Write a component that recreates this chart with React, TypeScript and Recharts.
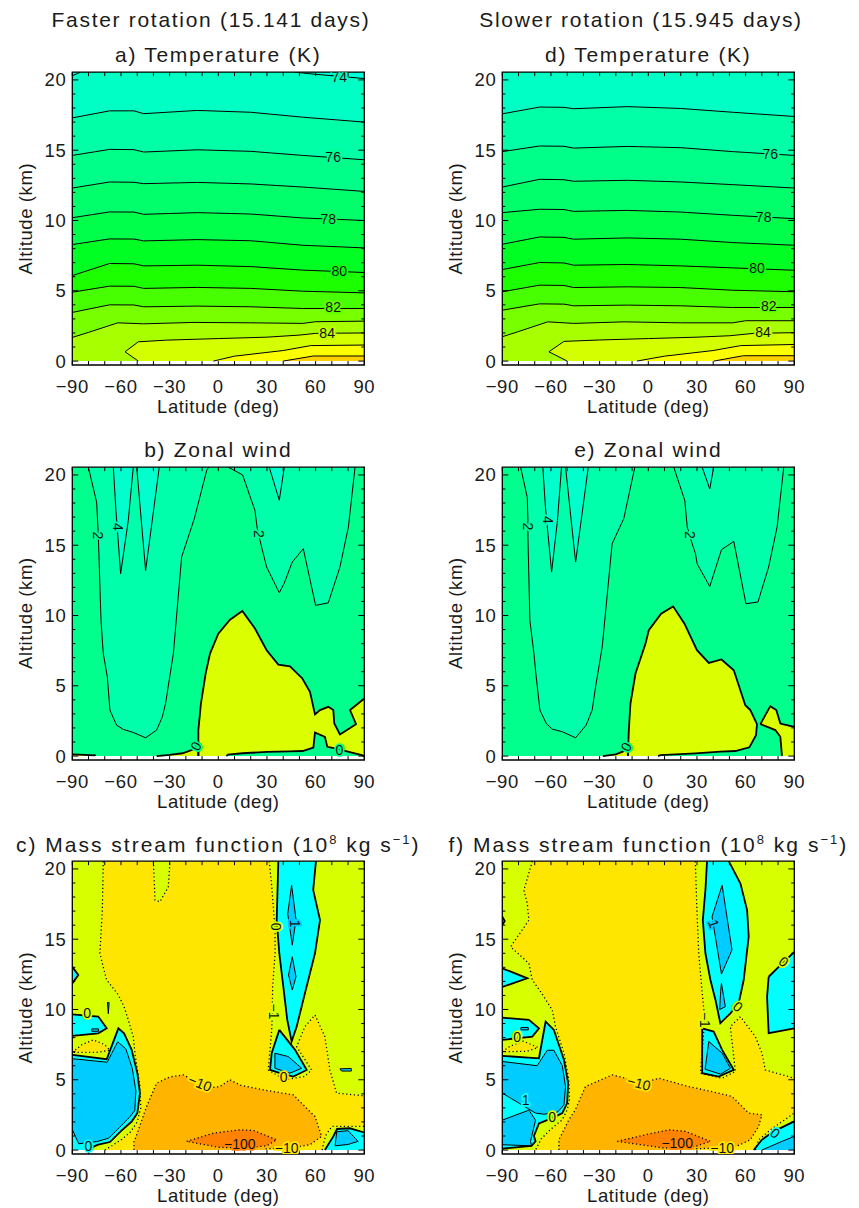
import React from "react";
import { ComposedChart, Area, Line, Scatter, XAxis, YAxis, ReferenceLine, ReferenceArea } from "recharts";

type P = [number, number];
type Lbl = [number, number, string, number, string];
type Edge = "thin" | "thick" | "dot" | "none";
type Fill = { pts: P[]; color: string; edge: Edge };
type Stroke = { pts: P[]; edge: Edge };
type Spec = { fills: Fill[]; strokes: Stroke[]; labels: Lbl[] };

const TOP = 20.55;
const BOTTOM = -0.28;
const latTicks = [-90, -80, -70, -60, -50, -40, -30, -20, -10, 0, 10, 20, 30, 40, 50, 60, 70, 80, 90];
const altTicks = [0, 5, 10, 15, 20];
const altMinorTicks = [0, 1, 2, 3, 4, 5, 6, 7, 8, 9, 10, 11, 12, 13, 14, 15, 16, 17, 18, 19, 20];
const plotRect: P[] = [[-90, 0], [90, 0], [90, TOP], [-90, TOP]];

// ---------- temperature (K) ----------
const tempLat = [-90, -67, -52, -46, -13, 20, 52, 90];
// contours 75..82 K
const tempAltA = [
  [17.3, 17.8, 17.8, 17.6, 17.83, 17.7, 17.35, 17.0],
  [14.63, 15.06, 15.04, 14.87, 15.03, 14.92, 14.63, 14.32],
  [12.31, 12.74, 12.72, 12.62, 12.71, 12.6, 12.38, 12.07],
  [10.2, 10.61, 10.6, 10.44, 10.56, 10.46, 10.18, 10.0],
  [8.29, 8.69, 8.68, 8.55, 8.64, 8.56, 8.24, 8.05],
  [6.08, 6.94, 6.92, 6.77, 6.82, 6.72, 6.47, 6.3],
  [4.9, 5.33, 5.32, 5.17, 5.24, 5.17, 4.97, 4.85],
  [3.46, 4.0, 3.99, 3.86, 3.91, 3.86, 3.74, 3.74],
];
const temp83A: P[] = [[-90, 1.68], [-80, 2.04], [-62, 2.72], [-46, 2.65], [-15, 2.75], [20, 2.72], [52, 2.68], [60, 2.8], [90, 2.84]];
const temp84A: P[] = [[-49.3, 0], [-57.5, 0.66], [-49.3, 1.37], [-31.8, 1.49], [0, 1.6], [30, 1.7], [50.3, 1.85], [60, 1.97], [90, 2.0]];
const temp85A: P[] = [[-3, 0], [10, 0.35], [40, 0.75], [57, 1.1], [90, 1.14]];
const temp86A: P[] = [[40, 0], [58.6, 0.36], [90, 0.36]];
const temp74A: P[][] = [[[47, TOP], [60, 20.4], [90, 20.1]], [[-90, 20.3], [-85, TOP]]];
const tempLabelsA: Lbl[] = [
  [74.6, 20.2, "74", 0, "#00ffc4"], [70.8, 14.51, "76", 0, "#00ff97"], [67.8, 10.13, "78", 0, "#00ff5a"],
  [74.6, 6.42, "80", 0, "#0aff10"], [70.8, 3.86, "82", 0, "#60ff00"], [67.1, 1.97, "84", 0, "#c0ff00"],
];

const tempAltD = [
  [17.59, 18.07, 18.05, 17.95, 18.1, 17.97, 17.7, 17.4],
  [14.9, 15.3, 15.28, 15.15, 15.27, 15.18, 14.9, 14.63],
  [12.38, 12.93, 12.9, 12.79, 12.86, 12.74, 12.55, 12.31],
  [10.56, 10.8, 10.78, 10.65, 10.72, 10.6, 10.37, 10.13],
  [8.31, 8.83, 8.8, 8.67, 8.76, 8.67, 8.43, 8.24],
  [6.51, 7.01, 6.98, 6.82, 6.87, 6.77, 6.63, 6.46],
  [4.93, 5.4, 5.38, 5.23, 5.28, 5.23, 5.04, 4.93],
  [3.62, 4.07, 4.05, 3.93, 3.98, 3.93, 3.81, 3.81],
];
const temp83D: P[] = [[-90, 1.73], [-80, 2.1], [-62, 2.79], [-46, 2.68], [-15, 2.79], [20, 2.72], [52, 2.72], [60, 2.87], [90, 2.87]];
const temp84D: P[] = [[-50, 0], [-61.3, 0.66], [-52, 1.4], [-30, 1.5], [0, 1.6], [30, 1.7], [50, 1.8], [65, 1.97], [90, 2.02]];
const temp85D: P[] = [[-7, 0], [10, 0.35], [40, 0.75], [57, 1.1], [90, 1.18]];
const temp86D: P[] = [[40.4, 0], [58.5, 0.38], [90, 0.38]];
const tempLabelsD: Lbl[] = [
  [75.2, 14.75, "76", 0, "#00ff97"], [71.1, 10.25, "78", 0, "#00ff5a"], [67, 6.63, "80", 0, "#0aff10"],
  [74.2, 3.91, "82", 0, "#60ff00"], [70.7, 2.04, "84", 0, "#c0ff00"],
];
// base, then region above 83, 82, ... 75
const tempColors = ["#a8ff00", "#78ff00", "#48ff00", "#1cff00", "#00ff22", "#00ff4a", "#00ff6a", "#00ff88", "#00ffa6", "#00ffc4"];
// above 74, >=84, >=85, >=86
const tempHot = ["#00ffd8", "#d4ff00", "#fcff00", "#ffd000"];

// ---------- zonal wind ----------
const windColors = ["#00ff8c", "#00ffaa", "#00ffcc", "#dcff00"];
const wind2LeftB: P[] = [[-80.1, TOP], [-75, 18.06], [-74, 15.8], [-73.6, 14.4], [-72.3, 9.66], [-70.9, 7.29], [-68.4, 5.63], [-66.8, 3.27], [-62.7, 2.2], [-58.6, 1.9], [-52.4, 1.68], [-44.8, 1.3], [-38, 1.85], [-34.5, 2.79], [-32.5, 3.74], [-27.7, 7.29], [-22.6, 14.16], [-14.8, 16.88], [-7.2, 20.3], [-6, TOP]];
const wind2RightB: P[] = [[6.2, TOP], [15, 20.0], [22.6, 17.47], [24, 16.2], [26.7, 14.87], [29.8, 13.45], [37.6, 11.62], [40.5, 12.26], [45.6, 13.8], [52.4, 14.75], [60, 10.72], [67.8, 10.9], [75, 13.45], [80.2, 16.29], [84.3, TOP]];
const wind4B: P[][] = [
  [[-64.7, TOP], [-63.1, 17.47], [-60.2, 12.97], [-55.5, 16.76], [-52.4, TOP]],
  [[-50.3, TOP], [-44.8, 13.2], [-36.4, TOP]],
  [[31.4, TOP], [37.6, 18.2], [40.7, TOP]],
];
const windNegB: P[][] = [
  [[-12.3, 0], [-12.3, 1.85], [-10.7, 3.74], [-7.8, 5.87], [-5.1, 7.29], [0, 8.71], [7.2, 9.7], [14.8, 10.32], [22.6, 9.07], [29.8, 7.53], [37, 6.51], [44.2, 6.39], [51.8, 5.52], [56.5, 4.57], [59.6, 2.96], [62.7, 3.27], [67.8, 3.5], [70.9, 3.27], [71.5, 2.32], [75, 1.54], [84.9, 2.27], [81.2, 3.27], [90, 4.1], [90, 0], [88.4, 0.07], [72, 0.54], [67.2, 0.66], [65.7, 1.37], [59.6, 1.68], [58.6, 0.6], [52, 0.36], [44, 0.33], [30, 0.3], [15, 0.2], [6, 0.1], [5, 0]],
  [[-90, 0], [-90, 0.12], [-76, 0.05], [-76, 0]],
  [[-38, 0], [-30, 0.08], [-22, 0.2], [-16, 0.45], [-12.3, 0.9], [-12.3, 0]],
];
const windLabelsB: Lbl[] = [
  [-74, 15.7, "2", 90, "#00ff9c"], [-61.6, 16.3, "4", 90, "#00ffbe"], [25.3, 15.8, "2", 90, "#00ff9c"],
  [-13.8, 0.7, "0", -60, "#00ff8c"], [74.6, 0.43, "0", 0, "#00ff8c"],
];

const wind2LeftE: P[] = [[-78.7, TOP], [-74.6, 18.4], [-74.2, 16.76], [-74.2, 15.58], [-73, 9.66], [-70.5, 7.29], [-69.1, 5.63], [-66.8, 3.27], [-62.9, 2.32], [-59.2, 1.92], [-53, 1.73], [-44.8, 1.3], [-38.3, 2.2], [-34.6, 3.27], [-32.5, 4.92], [-28.4, 7.77], [-22.3, 15.1], [-15.1, 16.9], [-8.3, TOP]];
const wind2RightE: P[] = [[15.7, TOP], [22.5, 18.18], [24, 16.3], [26.5, 15.3], [29.1, 14.4], [30.1, 13.68], [37.9, 12.07], [45.1, 14.68], [52.7, 15.27], [60.2, 10.84], [67.6, 10.96], [74.2, 13.45], [79.4, 16.29], [83.5, TOP]];
const wind4E: P[][] = [
  [[-65, TOP], [-63.4, 17.7], [-59.6, 13.09], [-56, 16.76], [-53.5, TOP]],
  [[-51, TOP], [-44.8, 13.8], [-37, TOP]],
  [[33.2, TOP], [37.9, 19.0], [40.3, TOP]],
];
const windNegE: P[][] = [
  [[-12.6, 0], [-12, 1.85], [-11, 3.74], [-7.9, 5.87], [-1.7, 8.0], [0.3, 8.95], [7.9, 10.13], [15.3, 10.65], [22.3, 9.42], [30, 7.53], [37.3, 6.63], [45.1, 6.87], [52.7, 6.1], [59.8, 3.62], [62.9, 3.27], [67, 2.27], [66.4, 1.49], [62.3, 0.62], [53.7, 0.36], [44.5, 0.31], [29.1, 0.19], [7.5, 0.07], [6, 0]],
  [[69.1, 2.27], [75.2, 3.55], [78.9, 3.27], [81.4, 2.32], [82.8, 2.27], [90, 2.08], [90, 0], [82.4, 0], [81.4, 1.37], [78.3, 1.85]],
  [[-28, 0], [-20, 0.12], [-14, 0.4], [-12.6, 0.6], [-12.6, 0]],
];
const windLabelsE: Lbl[] = [
  [-74.2, 16.33, "2", 90, "#00ff9c"], [-61.7, 16.8, "4", 90, "#00ffbe"], [25.9, 15.74, "2", 90, "#00ff9c"],
  [-13.6, 0.66, "0", -60, "#00ff8c"],
];

// ---------- mass stream function ----------
const psiColors = { yellow: "#ffe600", lime: "#d8ff00", cyan: "#00ffff", blue: "#00ccff", orange: "#ffb400", dark: "#ff8200" };
const psiLimeC: P[][] = [
  [[-90, TOP], [-70.9, TOP], [-71.5, 17.0], [-73, 14.0], [-70, 12.6], [-68.8, 12.1], [-61.6, 11.03], [-58.1, 10.2], [-55.5, 9.26], [-52.4, 8.07], [-51.4, 6.89], [-48.3, 4.52], [-47.8, 3.0], [-50, 2.0], [-54, 1.3], [-59, 0.8], [-65, 0.35], [-70, 0], [-90, 0]],
  [[-40, TOP], [-39, 17.78], [-36, 17.66], [-30.8, 18.73], [-29.8, TOP]],
  [[31.4, TOP], [33, 18.7], [35, 15.65], [35, 14], [33.5, 11.6], [33.2, 9.5], [32.9, 8.5], [30.8, 5.7], [41, 5.0], [53.4, 5.24], [57.5, 5.7], [48.3, 7.36], [53.4, 8.78], [59.6, 9.61], [65.7, 8.07], [68.8, 5.7], [72.9, 4.05], [90, 3.86], [90, TOP]],
  [[64, 0], [66, 1.0], [70, 1.68], [90, 1.68], [90, 0]],
];
const psiPocketC: P[][] = [[[-90, 6.95], [-84, 7.5], [-77, 7.84], [-70, 7.5], [-66.8, 7.1], [-75, 6.95]]];
const psiCyanC: P[][] = [
  [[-90, 13.04], [-86.3, 12.45], [-90, 11.86]],
  [[-90, 9.66], [-74, 9.5], [-68.8, 8.66], [-74, 8.3], [-90, 8.12]],
  [[-90, 6.77], [-68.8, 6.46], [-61.6, 8.66], [-58.1, 8.3], [-53.4, 7.13], [-49.9, 5.47], [-48.3, 4.05], [-49.9, 2.63], [-53.4, 2.03], [-60.2, 1.33], [-66.8, 0.57], [-74, 0.38], [-79, 0.14], [-80, 0], [-90, 0]],
  [[37, TOP], [36, 16.36], [37.6, 14], [40.1, 11.6], [42.5, 9.26], [45.2, 7.72], [48.3, 8.78], [53.4, 11.15], [59.6, 14], [62.7, 16.36], [58.5, 18.5], [60.2, TOP]],
  [[37.6, 8.55], [47.3, 7.13], [54.5, 5.7], [46.2, 5.23], [38, 5.47], [31.9, 5.7], [32.9, 6.89]],
  [[65.7, 0], [70.9, 0.97], [73.2, 1.5], [81, 1.55], [90, 1.25], [90, 0]],
];
const psiBlueC: P[][] = [
  [[-90, 6.5], [-68.5, 6.25], [-62, 7.7], [-57, 7.2], [-53, 5.8], [-50.8, 4.2], [-51.5, 2.8], [-55, 2.3], [-61, 1.6], [-67.5, 0.85], [-75, 0.6], [-86, 0.45], [-90, 1.45]],
  [[45.2, 18.84], [47.9, 16.4], [45.6, 14.58], [42.8, 16.8]],
  [[45.6, 13.75], [47.9, 12.33], [45.6, 11.39], [43.3, 12.45]],
  [[34.9, 6.89], [43.2, 6.65], [51.4, 5.82], [44.2, 5.47], [34.9, 5.82]],
  [[72, 0.3], [73, 1.3], [80, 1.38], [86.2, 0.62], [80, 0.4]],
  [[-78, 8.62], [-73.8, 8.62], [-73.8, 8.45], [-78, 8.45]],
  [[-68.3, 10.5], [-67.3, 10.5], [-67.8, 9.7]],
  [[75, 5.78], [82, 5.8], [82, 5.62], [76, 5.62]],
];
const psiOrangeC: P[] = [[-52, 0], [-52, 0.6], [-51.4, 0.73], [-44.2, 3.1], [-38, 4.76], [-30, 5.2], [-21.6, 5.35], [-14, 4.9], [-7.2, 4.4], [1, 4.52], [7.2, 5.0], [14, 4.6], [27.8, 4.28], [40, 4.05], [46.2, 3.93], [53.4, 3.1], [59.6, 2.39], [63.7, 0.97], [56.5, 0.38], [45, 0.15], [30, 0.1], [28, 0]];
const psiDarkC: P[] = [[-19.5, 0.62], [-3.1, 1.2], [13.3, 1.44], [21.6, 1.4], [36, 0.73], [29.7, 0.3], [15, 0.14], [0, 0.2]];
const psiLabelsC: Lbl[] = [
  [-80.8, 9.73, "0", 0, "#d8ff00"], [-80.1, 0.3, "0", 0, "#00ffff"], [35.6, 15.9, "0", 90, "#d8ff00"],
  [47.3, 16.1, "1", 90, "#00ccff"], [34.3, 9.85, "\u22121", 90, "#d8ff00"], [40.3, 5.23, "0", 0, "#ffe600"],
  [-11.3, 4.76, "\u221210", 22, "#ffe600"], [13.3, 0.4, "\u2212100", 0, "#ff8200"], [42.1, 0.12, "\u221210", 0, "#ffe600"],
];

const psiLimeF: P[][] = [
  [[-90, TOP], [-71.5, TOP], [-76.7, 18.49], [-74.6, 17.54], [-73.6, 16.36], [-84.9, 14.46], [-73.6, 13.28], [-71.5, 12.1], [-66.4, 11.27], [-59.2, 9.97], [-57.2, 8.78], [-52, 6.89], [-49, 5.0], [-48.6, 3.6], [-50, 2.86], [-53.1, 2.15], [-60, 1.5], [-66, 0.8], [-69.5, 0], [-90, 0]],
  [[29, TOP], [30, 17], [31.1, 14], [33, 11.5], [34.8, 9.26], [33.5, 7.5], [32.1, 5.47], [45.5, 5.11], [53.7, 5.59], [50.6, 8.78], [56.8, 9.49], [66, 8.07], [70.1, 6.89], [72.1, 5.7], [90, 5.11], [90, TOP]],
  [[66, 0], [68, 0.73], [76, 1.5], [90, 2.63], [90, 0]],
];
const psiPocketF: P[][] = [[[-90, 7.0], [-85, 7.4], [-77, 7.75], [-68, 7.3], [-75, 7.02]]];
const psiCyanF: P[][] = [
  [[-90, 16.6], [-88.5, 16.3], [-90, 16.0]],
  [[-90, 12.93], [-74.6, 12.22], [-90, 11.6]],
  [[-90, 9.42], [-73.6, 9.26], [-67.4, 8.66], [-71.5, 8.07], [-90, 7.84]],
  [[-90, 6.7], [-67.4, 6.53], [-63.3, 9.14], [-58.2, 8.55], [-52, 6.42], [-49.4, 4.76], [-50, 3.34], [-53, 2.63], [-59.2, 2.27], [-64.3, 2.04], [-67.4, 1.9], [-70.5, 1.0], [-69.5, 0.62], [-72, 0.3], [-90, 0.1]],
  [[36.2, TOP], [35.2, 18.5], [33.6, 16.36], [35.2, 14], [38.3, 12.1], [41.4, 10.68], [44.4, 9.02], [50.6, 9.73], [55.7, 10.44], [58.8, 12.1], [61.9, 15.2], [60.9, 17.07], [56.8, 18.96], [49.6, TOP]],
  [[33.2, 8.66], [40.3, 8.43], [45.5, 7.13], [52.7, 5.7], [43.4, 5.23], [33.2, 5.47]],
  [[74.2, 12.33], [80.4, 13.04], [90, 14.1], [90, 8.66], [74.2, 8.31], [73.2, 10.9]],
  [[65, 0], [70, 0.73], [77.3, 1.33], [90, 2.04], [90, 0]],
];
const psiBlueF: P[][] = [
  [[-90, 6.3], [-68.5, 6.0], [-62.3, 7.1], [-58.2, 7.1], [-53, 6.0], [-51, 4.5], [-52, 3.2], [-56, 2.7], [-64.3, 2.55], [-69.5, 2.63], [-90, 4.05]],
  [[-90, 2.13], [-73.6, 2.84], [-69.5, 2.13], [-72.6, 0.62], [-72, 0.3], [-90, 0.38]],
  [[45.5, 18.84], [51.6, 14.24], [45.1, 12.52], [39.3, 16.6]],
  [[45.1, 11.86], [47.5, 10.2], [44, 10.0], [44.6, 11.3]],
  [[37.3, 7.72], [45.5, 6.9], [50.6, 5.82], [44.6, 5.4], [35, 5.75]],
  [[70, 0], [82.4, 0.62], [90, 0.97], [90, 0]],
  [[-78.5, 8.72], [-74, 8.72], [-74, 8.55], [-78.5, 8.55]],
];
const psiOrangeF: P[] = [[-55.1, 0], [-55.1, 0.73], [-49, 2.15], [-45, 2.86], [-38.7, 4.52], [-22.2, 5.35], [-14, 5.11], [-3.8, 4.76], [6.5, 5.11], [24.9, 4.52], [43.4, 4.05], [51.6, 3.81], [61.9, 2.63], [70, 2.51], [68, 1.68], [62.9, 0.73], [55, 0.3], [45, 0.15], [30, 0.1], [28, 0]];
const psiDarkF: P[] = [[-19.2, 0.62], [-1.7, 1.09], [12.6, 1.44], [22.9, 1.33], [38.3, 0.62], [29, 0.26], [10, 0.14]];
const psiLabelsF: Lbl[] = [
  [-80.8, 8.07, "0", 0, "#d8ff00"], [-75.6, 3.57, "1", 0, "#00ffff"], [-59.2, 2.32, "0", 0, "#d8ff00"],
  [40.3, 16.1, "1", 70, "#00ccff"], [55.3, 10.2, "0", 40, "#d8ff00"], [34.8, 9.26, "\u22121", 90, "#d8ff00"],
  [83.4, 13.4, "0", 40, "#d8ff00"], [-5.8, 4.76, "\u221210", 15, "#ffe600"], [17.8, 0.5, "\u2212100", 0, "#ff8200"],
  [45.5, 0.12, "\u221210", 0, "#ffe600"], [78.3, 1.2, "0", 40, "#00ffff"],
];

// ---------- builders ----------
const onBorder = (a: P, b: P) =>
  (a[1] <= 0 && b[1] <= 0) || (a[1] >= TOP && b[1] >= TOP) || (a[0] <= -90 && b[0] <= -90) || (a[0] >= 90 && b[0] >= 90);

function outline(poly: P[]): P[][] {
  const pts = [...poly, poly[0]];
  const segs: P[][] = [];
  let cur: P[] = [pts[0]];
  for (let i = 1; i < pts.length; i++) {
    if (onBorder(pts[i - 1], pts[i])) {
      if (cur.length > 1) segs.push(cur);
      cur = [pts[i]];
    } else cur.push(pts[i]);
  }
  if (cur.length > 1) segs.push(cur);
  return segs;
}

function buildSpec(fills: Fill[], extra: Stroke[], labels: Lbl[]): Spec {
  const strokes: Stroke[] = [];
  fills.forEach((f) => {
    if (f.edge !== "none") outline(f.pts).forEach((s) => strokes.push({ pts: s, edge: f.edge }));
  });
  return { fills, strokes: [...strokes, ...extra], labels };
}

function tempSpec(alts: number[][], l83: P[], l84: P[], l85: P[], l86: P[], l74: P[][], labels: Lbl[]): Spec {
  const lines: P[][] = [l83, ...alts.map((row) => row.map((a, i) => [tempLat[i], a] as P)).reverse()];
  const fills: Fill[] = [{ pts: plotRect, color: tempColors[0], edge: "none" }];
  lines.forEach((ln, i) => fills.push({ pts: [...ln, [90, TOP], [-90, TOP]], color: tempColors[i + 1], edge: "none" }));
  l74.forEach((ln) => fills.push({ pts: [...ln, [ln[0][0] < 0 ? -90 : 90, TOP]], color: tempHot[0], edge: "none" }));
  [l84, l85, l86].forEach((ln, i) => fills.push({ pts: [...ln, [90, 0]], color: tempHot[i + 1], edge: "none" }));
  const extra = [...lines, ...l74, l84, l85, l86].map((pts) => ({ pts, edge: "thin" as Edge }));
  return buildSpec(fills, extra, labels);
}

function windSpec(left: P[], right: P[], fours: P[][], negs: P[][], labels: Lbl[]): Spec {
  const fills: Fill[] = [
    { pts: plotRect, color: windColors[0], edge: "none" },
    { pts: left, color: windColors[1], edge: "thin" },
    { pts: right, color: windColors[1], edge: "thin" },
    ...fours.map((pts) => ({ pts, color: windColors[2], edge: "thin" as Edge })),
    ...negs.map((pts) => ({ pts, color: windColors[3], edge: "thick" as Edge })),
  ];
  return buildSpec(fills, [], labels);
}

function psiSpec(lime: P[][], pockets: P[][], cyan: P[][], blue: P[][], orange: P[], dark: P[], labels: Lbl[]): Spec {
  const fills: Fill[] = [
    { pts: plotRect, color: psiColors.yellow, edge: "none" },
    ...lime.map((pts) => ({ pts, color: psiColors.lime, edge: "dot" as Edge })),
    ...pockets.map((pts) => ({ pts, color: psiColors.yellow, edge: "dot" as Edge })),
    ...cyan.map((pts) => ({ pts, color: psiColors.cyan, edge: "thick" as Edge })),
    ...blue.map((pts) => ({ pts, color: psiColors.blue, edge: "thin" as Edge })),
    { pts: orange, color: psiColors.orange, edge: "dot" },
    { pts: dark, color: psiColors.dark, edge: "dot" },
  ];
  return buildSpec(fills, [], labels);
}

const specs: Spec[][] = [
  [
    tempSpec(tempAltA, temp83A, temp84A, temp85A, temp86A, temp74A, tempLabelsA),
    windSpec(wind2LeftB, wind2RightB, wind4B, windNegB, windLabelsB),
    psiSpec(psiLimeC, psiPocketC, psiCyanC, psiBlueC, psiOrangeC, psiDarkC, psiLabelsC),
  ],
  [
    tempSpec(tempAltD, temp83D, temp84D, temp85D, temp86D, [], tempLabelsD),
    windSpec(wind2LeftE, wind2RightE, wind4E, windNegE, windLabelsE),
    psiSpec(psiLimeF, psiPocketF, psiCyanF, psiBlueF, psiOrangeF, psiDarkF, psiLabelsF),
  ],
];

// polygon -> range-area rows (degenerate base line so only the outline encloses area)
const polyRows = (pts: P[]) => {
  const c = pts[0][1];
  return [...pts, pts[0]].map(([lat, alt]) => ({ lat, v: [c, alt] }));
};
const lineRows = (pts: P[]) => pts.map(([lat, alt]) => ({ lat, alt }));
const labelRows = (lbls: Lbl[]) => lbls.map(([lat, alt, t, a, bg]) => ({ lat, alt, t, a, bg }));

const edgeStyle: Record<string, { w: number; dash?: string }> = {
  thin: { w: 1 },
  thick: { w: 1.8 },
  dot: { w: 1.3, dash: "1.2 2.6" },
};

// inward tick marks, lengths in data units (~3-6 px)
const tickSegs: { x: number; y: number }[][] = [
  ...latTicks.flatMap((lat) => [
    [{ x: lat, y: BOTTOM }, { x: lat, y: BOTTOM + 0.28 }],
    [{ x: lat, y: TOP }, { x: lat, y: TOP - 0.28 }],
  ]),
  ...altMinorTicks.flatMap((alt) => {
    const len = alt % 5 === 0 ? 3.7 : 1.9;
    return [
      [{ x: -90, y: alt }, { x: -90 + len, y: alt }],
      [{ x: 90, y: alt }, { x: 90 - len, y: alt }],
    ];
  }),
];

const fmtLat = (v: number) => (v % 30 === 0 ? (v < 0 ? `\u2212${-v}` : `${v}`) : "");
const tickFont = { fill: "#1a1a1a", fontSize: 18.5, letterSpacing: 0.6 };

const renderLabel = (p: any) => {
  const d = p.payload;
  return (
    <text
      x={p.cx}
      y={p.cy}
      transform={`rotate(${d.a} ${p.cx} ${p.cy})`}
      textAnchor="middle"
      dominantBaseline="central"
      fontSize={14}
      fill="#111"
      stroke={d.bg}
      strokeWidth={3.5}
      paintOrder="stroke"
    >
      {d.t}
    </text>
  );
};

function ContourPanel({ spec }: { spec: Spec }) {
  return (
    <ComposedChart width={430} height={430} margin={{ top: 72.2, right: 65.7, bottom: 5, left: 12.3 }}>
      {spec.fills.map((f, i) => (
        <Area
          key={`f${i}`}
          xAxisId="x"
          yAxisId="y"
          data={polyRows(f.pts)}
          dataKey="v"
          type="linear"
          fill={f.color}
          fillOpacity={1}
          stroke="none"
          dot={false}
          activeDot={false}
          isAnimationActive={false}
        />
      ))}
      {spec.strokes.map((s, i) => (
        <Line
          key={`s${i}`}
          xAxisId="x"
          yAxisId="y"
          data={lineRows(s.pts)}
          dataKey="alt"
          type="linear"
          stroke="#000"
          strokeWidth={edgeStyle[s.edge].w}
          strokeDasharray={edgeStyle[s.edge].dash}
          dot={false}
          activeDot={false}
          isAnimationActive={false}
        />
      ))}
      <Scatter xAxisId="x" yAxisId="y" data={labelRows(spec.labels)} dataKey="alt" shape={renderLabel} isAnimationActive={false} />
      {tickSegs.map((seg, i) => (
        <ReferenceLine key={`t${i}`} xAxisId="x" yAxisId="y" segment={seg} stroke="#000" strokeWidth={1} ifOverflow="visible" />
      ))}
      <ReferenceArea xAxisId="x" yAxisId="y" x1={-90} x2={90} y1={BOTTOM} y2={TOP} fill="none" stroke="#000" strokeWidth={1.3} ifOverflow="visible" />
      <XAxis
        xAxisId="x"
        dataKey="lat"
        type="number"
        domain={[-90, 90]}
        ticks={latTicks}
        interval={0}
        allowDataOverflow
        height={60}
        tickSize={0}
        tickMargin={15}
        tickFormatter={fmtLat}
        axisLine={false}
        tickLine={false}
        tick={tickFont}
      />
      <YAxis
        yAxisId="y"
        type="number"
        domain={[BOTTOM, TOP]}
        ticks={altTicks}
        interval={0}
        allowDataOverflow
        width={60}
        tickSize={0}
        tickMargin={6}
        axisLine={false}
        tickLine={false}
        tick={tickFont}
      />
    </ComposedChart>
  );
}

const colLefts = [0, 430];
const rowTops = [0, 394.5, 789];
const plotTop = 72.2;
const colTitles = ["Faster rotation (15.141 days)", "Slower rotation (15.945 days)"];
const panelTitles = [
  ["a) Temperature (K)", "b) Zonal wind", "c) Mass stream function"],
  ["d) Temperature (K)", "e) Zonal wind", "f) Mass stream function"],
];
const titleBaselines = [61.7, 456.7, 851.7];

export default function App() {
  const font = "'Liberation Sans', Arial, sans-serif";
  return (
    <div style={{ position: "relative", width: 859, height: 1208, background: "#fff", fontFamily: font, overflow: "hidden" }}>
      <style>{"body{margin:0}"}</style>
      {specs.map((col, c) =>
        col.map((spec, r) => (
          <div key={`${c}-${r}`} style={{ position: "absolute", left: colLefts[c], top: rowTops[r] }}>
            <ContourPanel spec={spec} />
          </div>
        ))
      )}
      <svg width={859} height={1208} style={{ position: "absolute", left: 0, top: 0, pointerEvents: "none" }} fontFamily={font} fill="#1a1a1a">
        {colTitles.map((t, c) => (
          <text key={t} x={colLefts[c] + 211} y={26.7} textAnchor="middle" fontSize={21} letterSpacing={1.7}>
            {t}
          </text>
        ))}
        {panelTitles.map((col, c) =>
          col.map((t, r) => (
            <text key={t} x={colLefts[c] + 218.3} y={titleBaselines[r]} textAnchor="middle" fontSize={21} letterSpacing={r === 2 ? 2.0 : 1.7}>
              {t}
              {r === 2 && (
                <>
                  {" (10"}
                  <tspan dy={-8} fontSize={13}>8</tspan>
                  <tspan dy={8}>{" kg s"}</tspan>
                  <tspan dy={-8} fontSize={13}>{"\u22121"}</tspan>
                  <tspan dy={8}>)</tspan>
                </>
              )}
            </text>
          ))
        )}
        {colLefts.map((cl) =>
          rowTops.map((rt) => (
            <g key={`${cl}-${rt}`}>
              <text x={cl + 218.3} y={rt + plotTop + 341} textAnchor="middle" fontSize={18.5} letterSpacing={0.6}>
                Latitude (deg)
              </text>
              <text transform={`translate(${cl + 31.7},${rt + plotTop + 146.4}) rotate(-90)`} textAnchor="middle" fontSize={18.5} letterSpacing={0.6}>
                Altitude (km)
              </text>
            </g>
          ))
        )}
      </svg>
    </div>
  );
}
